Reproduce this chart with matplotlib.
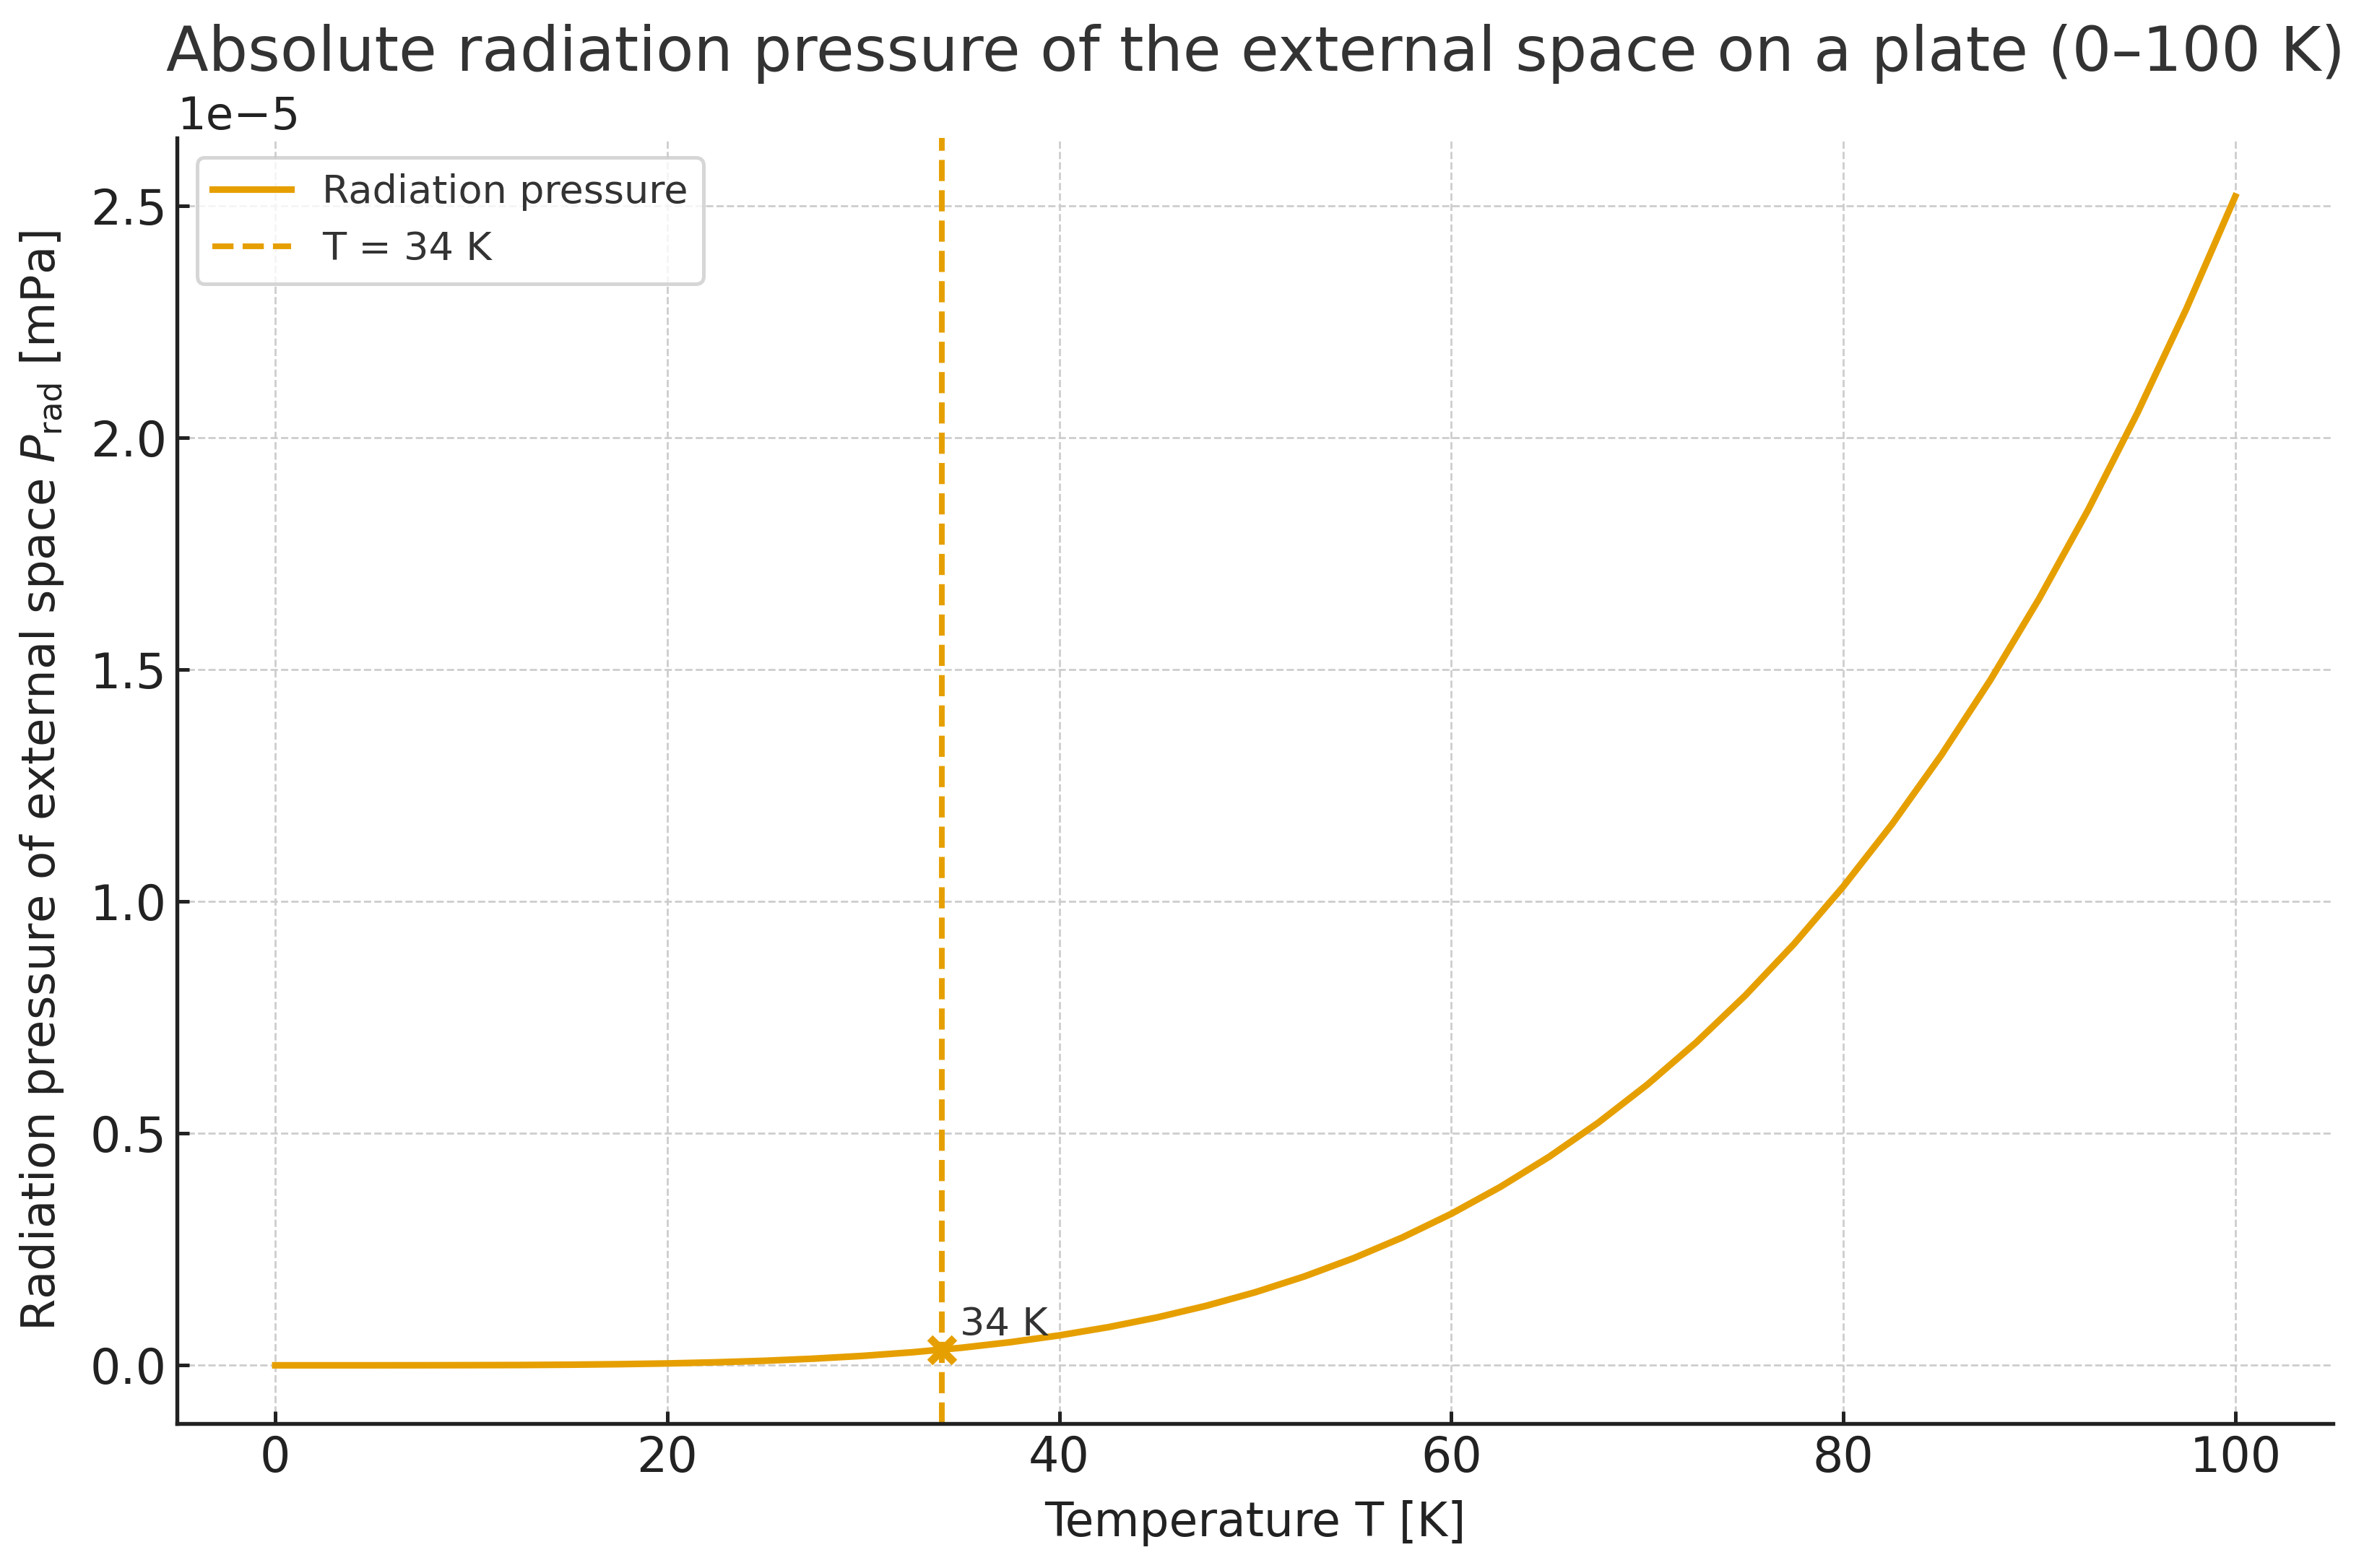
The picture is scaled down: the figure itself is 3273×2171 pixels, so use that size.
import numpy as np
import matplotlib
matplotlib.use("Agg")
import matplotlib.pyplot as plt

# values (pressure in units of 1e-5 mPa)
temperature = [0, 2.5, 5, 7.5, 10, 12.5, 15, 17.5, 20, 22.5, 25, 27.5, 30, 32.5,
               35, 37.5, 40, 42.5, 45, 47.5, 50, 52.5, 55, 57.5, 60, 62.5, 65,
               67.5, 70, 72.5, 75, 77.5, 80, 82.5, 85, 87.5, 90, 92.5, 95, 97.5, 100]
pressure_e5 = [0.0, 0.0, 0.0, 0.0001, 0.0003, 0.0006, 0.0013, 0.0024, 0.0040, 0.0065,
               0.0098, 0.0144, 0.0204, 0.0281, 0.0378, 0.0498, 0.0645, 0.0822, 0.1033,
               0.1283, 0.1575, 0.1915, 0.2307, 0.2755, 0.3266, 0.3845, 0.4498, 0.5231,
               0.6051, 0.6963, 0.7973, 0.9090, 1.0322, 1.1673, 1.3154, 1.4771, 1.6534,
               1.8449, 2.0526, 2.2773, 2.52]
pressure = np.array(pressure_e5) * 1e-5

t_mark = 34
p_mark = 0.0337e-5

orange = '#E69F00'
dark = '#333333'

plt.rcParams['font.family'] = 'DejaVu Sans'
fig = plt.figure(figsize=(3273/300, 2171/300), dpi=300)
ax = fig.add_axes([0.075, 0.092, 0.912, 0.820])

ax.plot(temperature, pressure, color=orange, lw=2.2, label='Radiation pressure')
ax.axvline(t_mark, color=orange, ls='--', lw=1.9, label='T = 34 K')
ax.plot([t_mark], [p_mark], marker='x', ms=8, mew=2.6, color=orange)
ax.annotate('34 K', (t_mark, p_mark), xytext=(6, 2), textcoords='offset points',
            ha='left', va='bottom', fontsize=13, color=dark)

ax.set_title('Absolute radiation pressure of the external space on a plate (0\u2013100 K)',
             fontsize=20.6, color=dark, pad=8)
ax.set_xlabel('Temperature T [K]', fontsize=15.5, color='#222222', labelpad=6)
ax.set_ylabel(r'Radiation pressure of external space $P_{\mathrm{rad}}$ [mPa]',
              fontsize=15.4, color='#222222', labelpad=8)

ax.grid(True, ls='--', lw=0.65, color='#cccccc')
ax.set_axisbelow(True)
for s in ['top', 'right']:
    ax.spines[s].set_visible(False)
for s in ['left', 'bottom']:
    ax.spines[s].set_linewidth(1.3)
    ax.spines[s].set_color('#222222')
ax.tick_params(direction='in', length=4, width=1.2, labelsize=16, colors='#222222')
ax.yaxis.get_offset_text().set_fontsize(15)

leg = ax.legend(loc='upper left', fontsize=13, frameon=True, fancybox=True)
leg.get_frame().set_edgecolor('#cccccc')
leg.get_frame().set_linewidth(1.2)
for t in leg.get_texts():
    t.set_color(dark)

fig.savefig('out.png', dpi=300)
